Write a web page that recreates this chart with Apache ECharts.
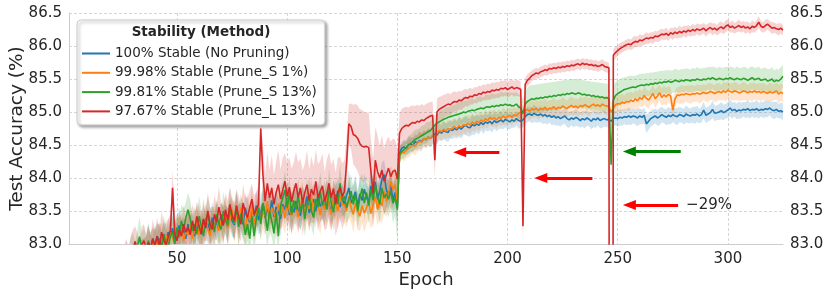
<!DOCTYPE html>
<html><head><meta charset="utf-8">
<script src="https://cdn.jsdelivr.net/npm/echarts@6/dist/echarts.min.js"></script>
<style>html,body{margin:0;padding:0;background:#fff}#c{width:830px;height:295px}</style>
</head><body><div id="c"></div>
<script>
// epochs START_EPOCH .. 325 (one value per epoch)
const START_EPOCH = 16;
const seriesNames = ['100% Stable (No Pruning)','99.98% Stable (Prune_S 1%)','99.81% Stable (Prune_S 13%)','97.67% Stable (Prune_L 13%)'];
const colors = ['#1f77b4','#ff7f0e','#2ca02c','#d62728'];
const bandColors = ['rgba(31,119,180,0.2)','rgba(255,127,14,0.2)','rgba(44,160,44,0.2)','rgba(214,39,40,0.2)'];
const yTicks = [83.0,83.5,84.0,84.5,85.0,85.5,86.0,86.5];

const blueMean = [
82.31,82.38,82.35,82.42,82.47,82.44,82.52,82.56,82.5,82.6,
82.62,82.7,82.66,82.74,82.8,82.76,82.85,82.81,82.9,82.86,
82.93,83.02,82.95,83.08,82.98,83.12,83.04,82.97,83.15,83.06,
83.18,83.1,83.24,83.05,83.2,83.28,83.13,83.22,83.08,83.3,
83.17,83.26,83.12,83.34,83.21,83.15,83.37,83.25,83.31,83.19,
83.4,83.27,83.33,83.22,83.45,83.3,83.38,83.26,83.48,83.35,
83.29,83.52,83.37,83.44,83.3,83.55,83.4,83.33,83.5,83.42,
83.58,83.36,83.47,83.62,83.4,83.53,83.45,83.66,83.41,83.56,
83.49,83.38,83.6,83.52,83.7,83.44,83.57,83.48,83.65,83.51,
83.43,83.62,83.55,83.72,83.47,83.6,83.68,83.5,83.75,83.57,
83.63,83.54,83.78,83.6,83.49,83.7,83.64,83.81,83.56,83.68,
83.6,83.74,83.85,83.62,83.7,83.79,83.58,83.76,83.66,83.83,
83.7,83.64,83.88,83.75,83.94,83.68,83.8,83.98,84.05,83.82,
83.74,83.9,83.66,83.78,83.55,84.38,84.45,84.47,84.45,84.5,
84.52,84.49,84.55,84.53,84.57,84.55,84.6,84.58,84.62,84.6,
84.64,84.67,84.65,84.7,84.68,84.72,84.7,84.69,84.74,84.72,
84.75,84.73,84.77,84.74,84.78,84.8,84.77,84.76,84.81,84.79,
84.82,84.8,84.84,84.81,84.85,84.83,84.86,84.82,84.87,84.84,
84.86,84.88,84.85,84.89,84.87,84.85,84.88,84.86,84.9,84.87,
84.86,84.88,84.93,84.96,84.97,84.95,84.98,84.96,84.95,84.97,
84.94,84.96,84.93,84.95,84.92,84.94,84.91,84.93,84.9,84.92,
84.94,84.9,84.88,84.91,84.89,84.92,84.9,84.87,84.9,84.88,
84.91,84.89,84.86,84.9,84.88,84.91,84.87,84.89,84.9,84.88,
84.89,84.86,84.9,84.91,84.9,84.92,84.91,84.93,84.92,84.94,
84.92,84.94,84.93,84.91,84.94,84.92,84.95,84.82,84.86,84.9,
84.92,84.94,84.91,84.93,84.96,84.94,84.92,84.95,84.93,84.96,
84.94,84.93,84.96,84.95,84.93,84.97,84.95,84.94,84.96,84.95,
84.97,84.94,84.96,85.03,84.95,84.97,84.99,85.04,84.98,84.99,
85.0,85.02,84.99,85.01,85.03,85.06,85.02,85.04,85.01,85.03,
85.02,85.04,85.03,85.05,85.02,85.04,85.03,85.05,85.02,85.04,
85.03,85.05,85.04,85.06,85.03,85.02,85.04,85.01,85.02,85.0];
// half-width of shaded band, in hundredths of a percent
const blueBand = [
15,18,16,20,17,22,19,16,21,18,
20,17,23,19,22,18,24,20,17,22,
19,25,21,18,23,20,26,22,19,24,
21,18,25,22,20,27,23,19,24,21,
26,22,19,25,21,28,23,20,26,22,
24,20,27,23,19,25,22,28,21,24,
20,26,23,19,25,22,27,21,24,20,
25,22,28,20,24,21,26,23,19,25,
22,27,20,24,21,26,23,28,20,24,
21,25,22,27,20,24,23,26,21,25,
22,27,20,24,21,26,23,20,25,22,
24,21,27,23,20,25,22,26,21,24,
23,20,25,22,27,21,24,26,22,25,
21,24,20,23,25,10,9,11,10,12,
11,10,12,11,13,12,11,13,12,14,
13,12,14,13,12,14,13,15,14,13,
14,13,15,14,13,15,14,13,15,14,
13,14,12,14,13,12,14,13,12,13,
12,13,11,12,13,11,12,10,11,12,
11,12,11,12,11,12,13,12,11,12,
12,13,12,11,12,13,12,13,12,11,
12,13,12,11,12,13,12,11,12,13,
12,11,12,13,12,11,12,13,12,11,
12,13,12,11,12,13,12,11,12,13,
12,11,12,13,12,11,12,14,13,12,
12,11,12,13,12,11,12,13,12,11,
12,13,12,11,12,13,12,11,12,13,
12,11,12,13,12,11,12,13,12,11,
12,13,12,11,12,13,12,11,12,13,
12,11,12,13,12,11,12,13,12,11,
12,13,12,11,12,13,12,11,12,13];

const orangeMean = [
82.25,82.33,82.3,82.4,82.36,82.45,82.5,82.43,82.55,82.52,
82.6,82.56,82.68,82.64,82.72,82.78,82.7,82.83,82.79,82.88,
82.84,82.95,82.9,83.03,82.92,83.07,82.99,83.11,82.96,83.14,
83.02,83.17,83.09,83.0,83.22,83.11,83.26,83.05,83.19,83.13,
83.3,83.08,83.21,83.35,83.14,83.27,83.18,83.4,83.23,83.12,
83.32,83.25,83.43,83.2,83.36,83.29,83.47,83.24,83.38,83.52,
83.31,83.44,83.27,83.55,83.39,83.22,83.48,83.35,83.58,83.3,
83.45,83.6,83.34,83.5,83.42,83.65,83.38,83.55,83.47,83.36,
83.62,83.44,83.57,83.39,83.68,83.5,83.43,83.63,83.55,83.41,
83.58,83.7,83.46,83.61,83.53,83.74,83.48,83.66,83.57,83.44,
83.64,83.52,83.76,83.58,83.45,83.69,83.61,83.5,83.73,83.59,
83.6,83.5,83.72,83.55,83.45,83.62,83.5,83.42,83.58,83.47,
83.55,83.65,83.46,83.6,83.72,83.52,83.66,83.58,83.8,83.65,
83.78,83.95,83.82,83.9,83.62,84.33,84.4,84.38,84.42,84.45,
84.47,84.5,84.48,84.53,84.56,84.54,84.6,84.58,84.62,84.6,
84.65,84.63,84.68,84.72,84.7,84.74,84.71,84.75,84.73,84.76,
84.78,84.75,84.79,84.77,84.81,84.79,84.83,84.8,84.85,84.82,
84.86,84.84,84.88,84.85,84.9,84.87,84.92,84.89,84.91,84.88,
84.92,84.9,84.94,84.91,84.93,84.95,84.92,84.96,84.94,84.98,
85.0,84.97,85.02,85.04,85.01,85.05,85.03,85.06,85.02,85.05,
85.04,85.07,85.03,85.06,85.05,85.08,85.04,85.07,85.06,85.09,
85.07,85.05,85.08,85.1,85.07,85.09,85.06,85.1,85.08,85.11,
85.09,85.07,85.1,85.12,85.09,85.11,85.08,85.12,85.1,85.09,
85.08,85.0,85.06,85.11,85.13,85.12,85.15,85.13,85.16,85.15,
85.18,85.16,85.2,85.17,85.22,85.19,85.25,85.21,85.18,85.23,
85.28,85.2,85.24,85.29,85.22,85.26,85.23,85.27,85.24,85.03,
85.2,85.26,85.25,85.27,85.26,85.28,85.27,85.26,85.28,85.27,
85.29,85.27,85.28,85.3,85.28,85.29,85.31,85.3,85.28,85.3,
85.31,85.29,85.32,85.3,85.33,85.31,85.3,85.32,85.31,85.29,
85.3,85.32,85.31,85.29,85.31,85.3,85.32,85.3,85.31,85.29,
85.31,85.3,85.28,85.31,85.29,85.3,85.32,85.27,85.3,85.28];
const orangeBand = [
18,21,17,23,19,25,20,22,18,24,
21,26,19,23,27,20,24,22,28,21,
25,22,29,20,26,23,30,21,27,24,
22,28,25,31,23,27,21,29,24,26,
30,23,27,22,32,25,28,21,26,29,
24,31,22,27,25,30,23,28,26,22,
29,24,32,21,27,25,30,23,28,26,
22,31,24,27,29,23,30,25,21,28,
26,23,30,24,28,22,27,31,25,23,
29,24,27,22,30,26,23,28,25,31,
24,27,22,29,25,30,23,27,26,24,
28,25,31,23,27,24,29,22,26,30,
25,28,23,30,26,24,29,27,31,25,
27,24,30,26,28,12,11,13,12,14,
13,12,14,13,15,14,13,12,14,13,
12,14,13,12,14,13,12,14,13,12,
13,12,14,13,12,13,12,14,13,12,
12,13,12,11,13,12,11,12,13,12,
12,11,13,12,11,12,13,12,11,12,
12,13,12,13,14,13,12,13,14,13,
13,14,13,12,13,14,13,12,13,14,
13,12,13,14,13,12,13,14,13,12,
13,14,13,12,13,14,13,12,13,14,
13,14,13,12,13,14,13,12,13,14,
13,12,13,14,13,12,13,14,13,12,
13,14,13,12,13,14,13,12,13,16,
13,12,13,14,13,12,13,14,13,12,
13,14,13,12,13,14,13,12,13,14,
13,12,13,14,13,12,13,14,13,12,
13,14,13,12,13,14,13,12,13,14,
13,12,13,14,13,12,13,14,13,12];

const greenMean = [
82.4,82.52,82.47,82.6,82.55,82.5,82.62,82.58,82.66,82.6,
82.7,82.78,82.72,82.85,82.9,82.82,82.95,83.11,82.94,82.98,
82.88,83.05,82.93,82.85,83.0,82.92,83.08,82.96,83.14,83.02,
82.95,83.12,83.18,83.0,83.25,83.1,83.35,83.22,83.4,83.52,
83.38,83.2,83.3,83.15,83.42,83.28,83.12,83.36,83.46,83.25,
83.33,83.18,83.45,83.3,83.22,83.5,83.37,83.28,83.55,83.4,
83.32,83.58,83.26,83.46,83.35,83.14,83.3,83.08,83.42,83.12,
83.38,83.55,83.3,83.62,83.45,83.2,83.5,83.35,83.16,83.48,
83.12,83.58,83.7,83.82,83.55,83.78,83.45,83.66,83.52,83.74,
83.48,83.65,83.38,83.6,83.72,83.5,83.4,83.68,83.56,83.8,
83.58,83.7,83.52,83.85,83.62,83.48,83.75,83.6,83.92,83.66,
83.72,83.55,83.68,83.8,83.6,83.75,83.5,83.7,83.84,83.62,
83.78,83.58,83.82,83.66,83.9,83.72,83.6,83.85,83.7,83.76,
83.68,83.8,83.62,83.7,83.52,84.35,84.4,84.43,84.46,84.5,
84.52,84.55,84.58,84.6,84.62,84.64,84.66,84.68,84.7,84.72,
84.76,84.8,84.83,84.85,84.87,84.89,84.9,84.92,84.93,84.94,
84.95,84.96,84.97,84.98,85.0,84.99,85.01,85.02,85.03,85.02,
85.04,85.05,85.06,85.05,85.07,85.08,85.07,85.09,85.08,85.1,
85.09,85.11,85.1,85.12,85.1,85.11,85.09,85.1,85.12,85.08,
85.06,84.98,85.12,85.16,85.18,85.2,85.19,85.21,85.2,85.22,
85.21,85.23,85.22,85.24,85.23,85.25,85.24,85.26,85.25,85.27,
85.26,85.28,85.27,85.29,85.28,85.27,85.29,85.28,85.26,85.27,
85.25,85.26,85.24,85.25,85.23,85.24,85.22,85.23,85.21,85.22,
85.2,84.2,85.18,85.25,85.28,85.3,85.32,85.34,85.35,85.36,
85.37,85.38,85.37,85.39,85.4,85.41,85.4,85.42,85.41,85.43,
85.42,85.44,85.43,85.45,85.44,85.46,85.45,85.47,85.45,85.46,
85.48,85.47,85.46,85.48,85.47,85.49,85.48,85.47,85.49,85.48,
85.5,85.49,85.48,85.5,85.49,85.51,85.5,85.52,85.5,85.49,
85.51,85.5,85.49,85.51,85.5,85.52,85.5,85.49,85.51,85.5,
85.49,85.51,85.5,85.48,85.5,85.52,85.49,85.5,85.51,85.48,
85.49,85.5,85.47,85.48,85.5,85.46,85.48,85.47,85.5,85.54];
const greenBand = [
16,20,18,23,19,25,21,17,24,20,
22,26,19,24,28,21,25,30,22,27,
23,28,21,26,30,24,27,22,29,25,
21,27,24,30,22,28,25,31,23,26,
29,22,27,24,31,25,28,21,26,30,
24,28,22,27,25,30,23,26,29,24,
27,23,30,25,28,22,26,29,24,27,
23,29,25,28,22,27,30,24,26,31,
25,28,23,30,26,24,29,22,27,25,
29,24,27,23,30,25,28,22,26,29,
24,27,23,30,25,28,22,26,29,24,
27,23,30,25,28,24,26,29,23,27,
25,28,24,30,26,23,29,25,27,24,
28,25,30,27,50,12,11,13,12,14,
13,14,15,14,13,15,14,16,15,14,
15,16,15,14,16,15,17,16,15,17,
16,17,18,17,16,18,17,19,18,17,
18,19,18,17,19,18,19,20,19,18,
19,20,19,18,20,19,20,19,18,19,
19,22,20,21,22,21,22,21,22,21,
22,21,22,21,22,21,22,21,22,21,
22,21,22,21,22,21,22,21,22,21,
22,21,22,21,22,21,22,21,22,21,
22,20,20,21,20,19,20,19,18,19,
18,17,18,17,18,17,18,17,18,17,
18,17,18,17,18,17,18,17,18,17,
18,17,18,17,18,17,18,17,18,17,
18,17,18,17,18,17,18,17,18,17,
18,17,18,17,18,17,18,17,18,17,
18,17,18,17,18,17,18,17,18,17,
18,17,18,17,18,17,18,17,18,17];

const redMean = [
82.3,82.42,82.5,82.46,82.58,82.55,82.63,82.6,82.7,82.66,
82.72,82.8,82.75,82.86,82.92,83.04,82.9,82.85,82.98,83.05,
82.94,83.02,82.88,83.08,82.97,83.12,82.95,83.18,83.06,82.98,
83.1,83.2,83.85,83.15,83.05,83.22,83.12,83.3,83.18,83.26,
83.14,83.35,83.2,83.42,83.28,83.15,83.38,83.24,83.5,83.3,
83.22,83.45,83.33,83.56,83.4,83.28,83.52,83.36,83.6,83.44,
83.35,83.58,83.42,83.3,83.62,83.48,83.4,83.55,83.68,83.45,
83.52,83.6,84.75,84.05,83.65,83.92,83.7,83.85,83.6,83.78,
83.9,83.68,83.82,83.95,83.72,83.86,83.64,83.8,83.92,83.7,
83.85,83.62,83.78,83.9,83.66,83.83,83.74,83.95,83.7,83.8,
83.88,83.65,83.76,83.92,83.7,83.84,83.6,83.78,83.86,83.72,
83.8,84.25,84.82,84.78,84.66,84.64,84.6,84.52,84.48,84.47,
84.48,84.46,84.1,83.77,84.27,84.1,84.0,84.12,83.95,84.05,
84.15,84.02,84.1,84.12,83.98,84.68,84.75,84.78,84.8,84.79,
84.82,84.84,84.83,84.86,84.85,84.88,84.87,84.9,84.92,84.94,
84.95,84.27,85.0,85.04,85.06,85.08,85.1,85.12,85.11,85.14,
85.16,85.15,85.18,85.17,85.2,85.22,85.21,85.24,85.23,85.26,
85.25,85.28,85.27,85.3,85.29,85.31,85.3,85.33,85.32,85.34,
85.33,85.36,85.35,85.37,85.34,85.36,85.38,85.35,85.37,85.36,
85.34,83.27,85.42,85.48,85.51,85.55,85.57,85.59,85.58,85.61,
85.62,85.64,85.63,85.66,85.65,85.67,85.66,85.68,85.67,85.69,
85.68,85.7,85.69,85.71,85.7,85.72,85.73,85.71,85.74,85.72,
85.73,85.71,85.72,85.7,85.71,85.69,85.7,85.72,85.69,85.68,
85.67,60.0,85.86,85.9,85.93,85.96,85.98,86.0,86.02,86.03,
86.02,86.05,86.07,86.06,86.09,86.08,86.1,86.12,86.11,86.13,
86.12,86.15,86.14,86.16,86.18,86.17,86.19,86.16,86.2,86.18,
86.21,86.19,86.22,86.2,86.23,86.21,86.24,86.22,86.25,86.23,
86.26,86.24,86.25,86.27,86.23,86.26,86.28,86.25,86.27,86.24,
86.27,86.29,86.26,86.3,86.32,86.28,86.3,86.27,86.29,86.31,
86.28,86.3,86.27,86.29,86.26,86.3,86.28,86.31,86.36,86.3,
86.28,86.31,86.33,86.3,86.27,86.28,86.26,86.25,86.27,86.24];
const redBand = [
18,22,20,25,21,27,23,19,26,22,
24,28,21,26,30,23,27,22,29,25,
22,27,24,30,23,28,25,31,26,22,
28,24,26,30,23,27,25,29,22,26,
30,24,27,22,29,25,31,23,28,26,
24,29,26,31,23,28,25,30,27,24,
29,25,31,26,28,23,30,27,24,29,
26,30,10,45,40,48,42,50,44,47,
52,45,49,43,51,46,50,44,48,53,
45,49,44,52,47,50,43,48,51,46,
49,44,52,47,50,45,48,53,46,50,
47,40,30,35,45,48,50,52,55,53,
50,54,48,52,50,55,48,53,50,52,
48,53,50,46,44,30,30,29,28,28,
27,26,26,25,24,24,23,22,22,21,
21,27,20,19,18,18,17,17,16,16,
15,15,14,14,14,13,13,13,12,12,
12,12,12,12,12,12,12,12,12,12,
12,12,12,12,12,12,12,12,12,12,
12,27,10,9,9,8,8,8,8,8,
8,8,8,8,8,8,8,8,8,8,
8,8,8,8,8,8,8,8,8,8,
8,8,8,8,8,8,8,8,8,8,
8,30,10,9,8,8,8,8,8,8,
8,9,8,8,9,8,8,9,8,8,
9,8,8,9,8,8,9,8,8,9,
8,8,9,8,8,9,8,8,9,8,
8,9,8,8,9,8,8,9,8,8,
9,8,8,9,8,8,9,8,8,9,
8,8,9,8,8,9,8,8,9,8,
8,9,8,8,9,8,8,9,8,8];

// annotation arrows in data units (tail -> head)
const arrowNotes = [
  {from:[196.3,84.39], to:[178.3,84.39], color:'#ff0000', label:''},
  {from:[238.5,84.0],  to:[215.1,84.0],  color:'#ff0000', label:''},
  {from:[278.6,84.4],  to:[255.3,84.4],  color:'#008000', label:''},
  {from:[277.4,83.59], to:[255.3,83.59], color:'#ff0000', label:'\u221229%'}
];

const means = [blueMean, orangeMean, greenMean, redMean];
const bands = [blueBand, orangeBand, greenBand, redBand];
const FONT = 'DejaVu Sans';

const series = [];
means.forEach((m, k) => {
  const pts = m.map((v, i) => [START_EPOCH + i, v - bands[k][i] / 100, v + bands[k][i] / 100]);
  series.push({type:'custom', name:'_band'+k, silent:true, z:1, data:pts,
    encode:{x:0, y:[1,2]},
    renderItem:(params, api) => {
      if (params.dataIndex !== 0) return null;
      const upper = pts.map(p => api.coord([p[0], p[2]]));
      const lower = pts.map(p => api.coord([p[0], p[1]])).reverse();
      const cs = params.coordSys;
      return {type:'polygon', shape:{points:upper.concat(lower)},
        style:{fill:bandColors[k], stroke:null},
        clipPath:{type:'rect', shape:{x:cs.x, y:cs.y, width:cs.width, height:cs.height}}};
    }});
});
means.forEach((m, k) => {
  series.push({type:'line', name:seriesNames[k], data:m.map((v, i) => [START_EPOCH + i, v]),
    symbol:'none', showSymbol:false, color:colors[k], lineStyle:{width:1.6, color:colors[k]}, z:3});
});
series.push({type:'line', name:'_arrows', data:[], silent:true, z:5,
  markLine:{silent:true, animation:false, symbol:['none','triangle'], symbolSize:[10,13],
    data: arrowNotes.map(a => [
      {coord:a.from, lineStyle:{color:a.color, width:3, type:'solid'},
       label:{show:!!a.label, formatter:a.label, position:'start', distance:8,
              fontFamily:FONT, fontSize:15, color:'#262626'}},
      {coord:a.to}
    ])}});

const chart = echarts.init(document.getElementById('c'), null, {renderer:'canvas'});
chart.setOption({
  animation:false,
  backgroundColor:'#ffffff',
  grid:{left:69, right:47, top:13, bottom:51, containLabel:false, outerBoundsMode:'none'},
  xAxis:{type:'value', min:1, max:325, name:'Epoch', nameLocation:'middle', nameGap:27, nameMoveOverlap:false,
    nameTextStyle:{fontFamily:FONT, fontSize:18, color:'#262626'},
    axisLine:{show:true, lineStyle:{color:'#cccccc', width:1}},
    axisTick:{show:false},
    axisLabel:{fontFamily:FONT, fontSize:15, color:'#262626', margin:8,
      formatter:v => (v % 50 === 0 ? String(v) : '')},
    splitLine:{show:true, showMinLine:false, showMaxLine:false,
      lineStyle:{color:'#cccccc', width:0.8, type:[3,2]}}},
  yAxis:[
    {type:'value', min:yTicks[0], max:yTicks[yTicks.length-1], interval:0.5, position:'left',
     name:'Test Accuracy (%)', nameLocation:'middle', nameGap:42, nameMoveOverlap:false,
     nameTextStyle:{fontFamily:FONT, fontSize:18.5, color:'#262626'},
     axisLine:{show:true, lineStyle:{color:'#cccccc', width:1}},
     axisTick:{show:false},
     axisLabel:{fontFamily:FONT, fontSize:15, color:'#262626', margin:7, formatter:v => v.toFixed(1)},
     splitLine:{show:true, lineStyle:{color:'#cccccc', width:0.8, type:[3,2]}}},
    {type:'value', min:yTicks[0], max:yTicks[yTicks.length-1], interval:0.5, position:'right',
     axisLine:{show:false}, axisTick:{show:false}, splitLine:{show:false},
     axisLabel:{fontFamily:FONT, fontSize:15, color:'#262626', margin:7, formatter:v => v.toFixed(1)}}
  ],
  legend:{orient:'vertical', left:77, top:20, padding:[26,8,6,5], itemWidth:28, itemHeight:14, itemGap:4.3,
    icon:'path://M0,0H28V2H0Z',
    backgroundColor:'#ffffff', borderColor:'#cccccc', borderWidth:1, borderRadius:4,
    shadowColor:'rgba(0,0,0,0.35)', shadowBlur:3, shadowOffsetX:2, shadowOffsetY:2,
    textStyle:{fontFamily:FONT, fontSize:13.5, color:'#262626', lineHeight:15},
    data:seriesNames},
  graphic:[{type:'text', x:201, y:32, z:100, zlevel:0,
    style:{text:'Stability (Method)', align:'center', verticalAlign:'middle',
      textAlign:'center', textVerticalAlign:'middle',
      font:'bold 13.5px "DejaVu Sans"', fill:'#262626'}}],
  series:series
});
</script></body></html>
